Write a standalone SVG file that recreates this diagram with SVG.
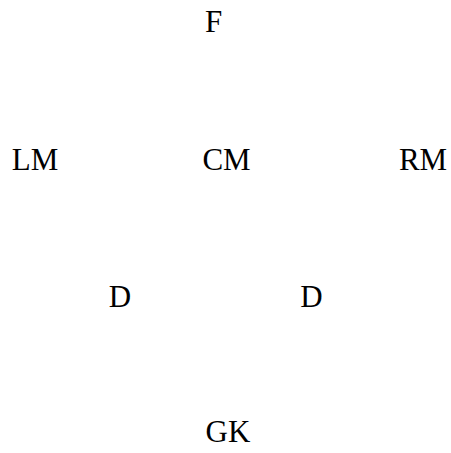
<svg xmlns="http://www.w3.org/2000/svg" width="451" height="453" viewBox="0 0 451 453">
<style>
text { font-family: "Liberation Serif", "Times New Roman", serif; font-size: 31px; fill: #000; text-anchor: middle; }
</style>
<rect width="451" height="453" fill="#fff"/>
<g id="F"><text x="213.5" y="32">F</text></g>
<g id="LM"><text x="35" y="170">LM</text></g>
<g id="CM"><text x="226.5" y="170">CM</text></g>
<g id="RM"><text x="423" y="170">RM</text></g>
<g id="D1"><text x="120" y="307">D</text></g>
<g id="D2"><text x="311.5" y="307">D</text></g>
<g id="GK"><text x="228" y="442">GK</text></g>
<g id="connectors"></g>
</svg>
